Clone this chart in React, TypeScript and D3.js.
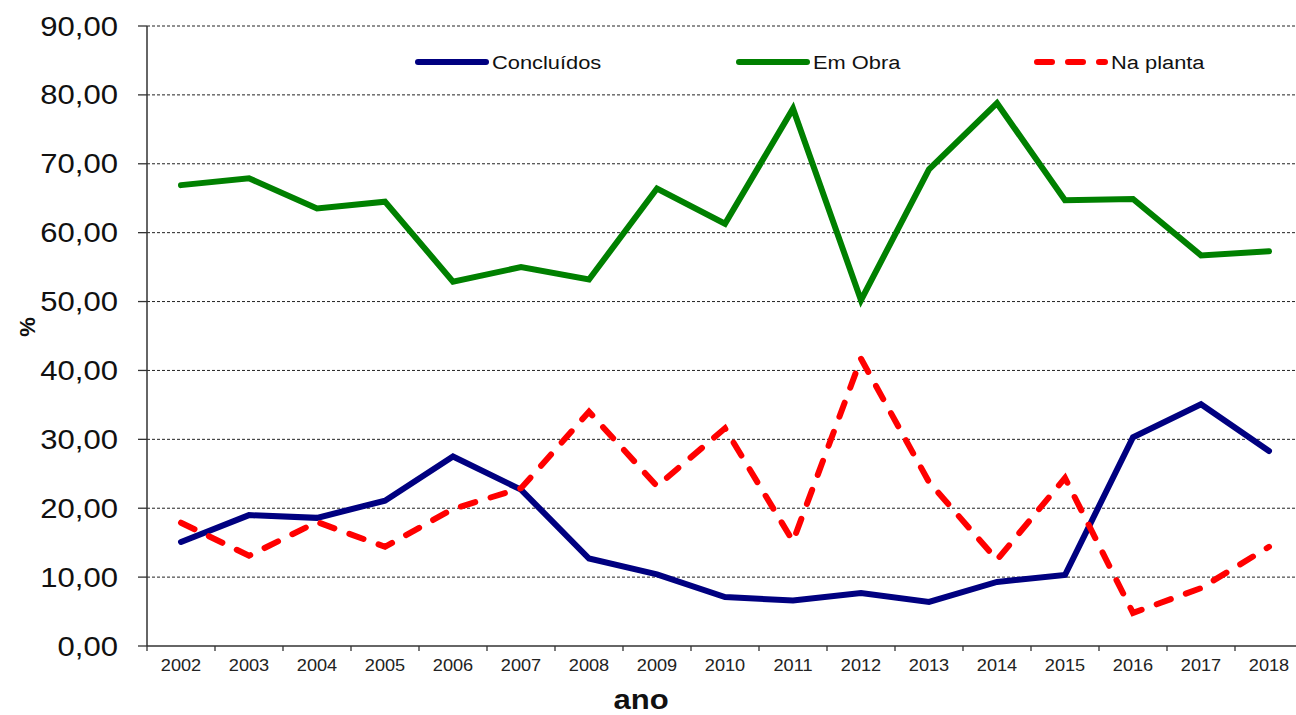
import React from "react";
import * as d3 from "d3";

const years = ["2002","2003","2004","2005","2006","2007","2008","2009","2010","2011","2012","2013","2014","2015","2016","2017","2018"];
const concluidos = [15.1, 19.0, 18.6, 21.1, 27.5, 22.7, 12.7, 10.4, 7.1, 6.6, 7.7, 6.4, 9.3, 10.3, 30.3, 35.1, 28.3];
const emObra = [66.9, 67.9, 63.5, 64.5, 52.9, 55.0, 53.2, 66.4, 61.3, 78.0, 50.2, 69.2, 78.8, 64.7, 64.9, 56.7, 57.3];
const naPlanta = [17.9, 13.1, 18.0, 14.4, 19.9, 22.9, 34.0, 23.2, 31.6, 15.2, 41.7, 23.8, 12.5, 24.4, 4.8, 8.4, 14.4];
const yTicks = [0, 10, 20, 30, 40, 50, 60, 70, 80, 90];

const W = 1296, H = 715;
const left = 147, right = 1303, top = 26, bottom = 646;
const SX = 1.15;

export default function App() {
  const x = d3.scaleBand<string>().domain(years).range([left, right]);
  const y = d3.scaleLinear().domain([0, 90]).range([bottom, top]);
  const cx = (i: number) => (x(years[i]) as number) + x.bandwidth() / 2;
  const line = d3.line<number>().x((_, i) => cx(i)).y(v => y(v));
  const fmt = (v: number) => v.toFixed(2).replace(".", ",");
  const font = "'Liberation Sans', Arial, sans-serif";

  const series = [
    { name: "Concluídos", data: concluidos, color: "#000080", dash: undefined as string | undefined, lx: 418 },
    { name: "Em Obra", data: emObra, color: "#008000", dash: undefined, lx: 739 },
    { name: "Na planta", data: naPlanta, color: "#FF0000", dash: "15 16", lx: 1037 },
  ];

  return (
    <svg width={W} height={H} style={{ position: "absolute", left: 0, top: 0, background: "#fff" }} fontFamily={font}>
      {yTicks.map(t => (
        <g key={t}>
          {t > 0 && <line x1={left} x2={right} y1={y(t)} y2={y(t)} stroke="#222" strokeWidth={1} strokeDasharray="3 2" />}
          <line x1={138} x2={left} y1={y(t)} y2={y(t)} stroke="#333" strokeWidth={1.3} />
          <text transform={`translate(118,${y(t) + 9.5}) scale(${SX},1)`} textAnchor="end" fontSize={27} fill="#111">{fmt(t)}</text>
        </g>
      ))}
      <line x1={left} x2={left} y1={top} y2={bottom} stroke="#333" strokeWidth={1.5} />
      <line x1={left} x2={right} y1={bottom} y2={bottom} stroke="#333" strokeWidth={1.5} />
      {years.map((yr, i) => (
        <g key={yr}>
          <line x1={x(yr) as number} x2={x(yr) as number} y1={bottom} y2={bottom + 5} stroke="#333" strokeWidth={1.3} />
          <text transform={`translate(${cx(i)},${671}) scale(${SX},1)`} textAnchor="middle" fontSize={15.8} fill="#222">{yr}</text>
        </g>
      ))}
      {series.map(s => (
        <path key={s.name} d={line(s.data) || ""} fill="none" stroke={s.color} strokeWidth={6}
          strokeDasharray={s.dash} strokeLinecap="round" strokeLinejoin="miter" />
      ))}
      {series.map(s => (
        <g key={"lg" + s.name}>
          <line x1={s.lx} x2={s.lx + 68} y1={62} y2={62} stroke={s.color} strokeWidth={6} strokeLinecap="round" strokeDasharray={s.dash} />
          <text transform={`translate(${s.lx + 74},${69}) scale(${SX},1)`} fontSize={19} fill="#111">{s.name}</text>
        </g>
      ))}
      <text transform={`translate(641,709) scale(${SX},1)`} textAnchor="middle" fontSize={27} fontWeight="bold" fill="#111">ano</text>
      <text transform="translate(35,327) rotate(-90)" textAnchor="middle" fontSize={22} fontWeight="bold" fill="#111">%</text>
    </svg>
  );
}
